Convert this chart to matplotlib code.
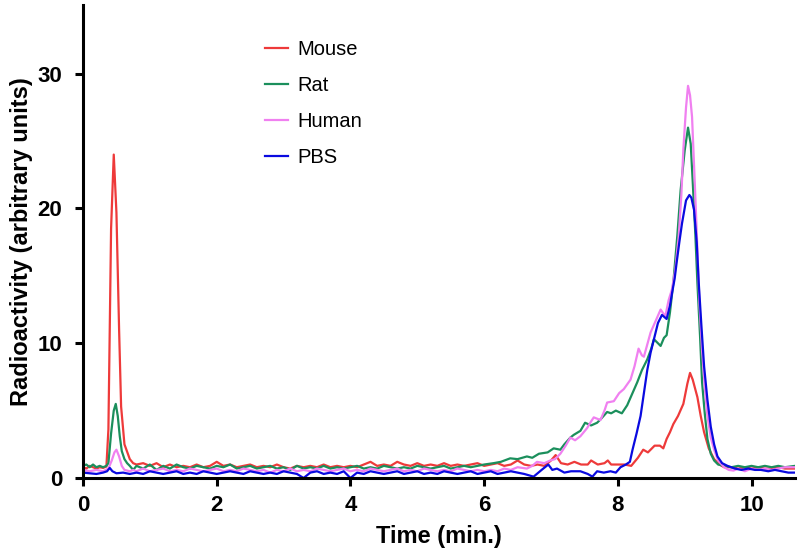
import numpy as np
import matplotlib
matplotlib.use("Agg")
import matplotlib.pyplot as plt

# sample times for the flat middle part of the run (0.8 - 6.0 min)
t_base = np.round(np.arange(0.8, 6.05, 0.1), 2)

# Mouse
mouse_head_t = [0.0, 0.05, 0.1, 0.15, 0.2, 0.25, 0.3, 0.35, 0.38, 0.40, 0.42, 0.46, 0.50, 0.54, 0.57, 0.62, 0.70, 0.75]
mouse_head_y = [0.8, 0.7, 0.9, 0.8, 0.7, 0.8, 0.75, 0.85, 3.6, 11.0, 18.5, 24.0, 19.7, 11.0, 5.3, 2.5, 1.4, 1.1]
mouse_base_y = [1.0, 1.1, 0.9, 1.1, 0.8, 1.0, 0.8, 0.9, 0.8, 1.0, 0.8, 0.9, 1.2, 0.9, 1.0, 0.8, 0.9, 1.0, 0.8, 0.9,
                0.8, 1.0, 0.8, 0.7, 0.9, 0.8, 0.9, 0.8, 1.0, 0.8, 0.9, 0.8, 0.9, 0.8, 1.0, 1.2, 0.9, 1.0, 0.9, 1.2,
                1.0, 0.9, 1.1, 0.9, 1.0, 0.9, 1.1, 0.9, 1.0, 0.9, 1.0, 1.1, 0.9]
mouse_tail_t = [6.1, 6.2, 6.3, 6.4, 6.5, 6.6, 6.7, 6.8, 6.9, 7.0, 7.07, 7.15, 7.25, 7.35, 7.45, 7.55, 7.6, 7.7, 7.8, 7.85,
                7.9, 8.0, 8.1, 8.2, 8.3, 8.38, 8.45, 8.55, 8.63, 8.68, 8.73, 8.78, 8.83, 8.9, 8.98, 9.04, 9.08, 9.12,
                9.19, 9.24, 9.29, 9.36, 9.44, 9.52, 9.59, 9.7, 9.8, 9.9, 10.0, 10.1, 10.2, 10.3, 10.4, 10.5, 10.65]
mouse_tail_y = [1.0, 1.1, 0.9, 1.0, 1.3, 1.0, 0.9, 1.0, 0.9, 1.3, 1.7, 1.1, 1.0, 1.2, 1.0, 1.0, 1.3, 1.0, 1.1, 1.3,
                1.0, 1.0, 1.0, 0.9, 1.5, 2.1, 1.9, 2.4, 2.4, 2.2, 2.9, 3.4, 4.0, 4.6, 5.5, 7.0, 7.8, 7.3,
                6.0, 4.6, 3.4, 2.2, 1.4, 1.0, 0.8, 0.8, 0.7, 0.8, 0.7, 0.8, 0.7, 0.7, 0.8, 0.7, 0.7]

# Rat
rat_head_t = [0.0, 0.05, 0.1, 0.15, 0.2, 0.25, 0.3, 0.35, 0.38, 0.42, 0.46, 0.49, 0.52, 0.55, 0.58, 0.62, 0.66, 0.70, 0.75]
rat_head_y = [0.9, 1.0, 0.8, 1.0, 0.8, 0.9, 0.8, 0.9, 1.1, 3.3, 5.0, 5.5, 4.6, 3.1, 2.0, 1.4, 1.1, 0.9, 0.6]
rat_base_y = [0.9, 0.7, 1.0, 0.6, 0.9, 0.7, 1.0, 0.8, 0.7, 0.9, 0.8, 0.7, 0.9, 0.8, 1.0, 0.7, 0.8, 0.9, 0.7, 0.8,
              0.9, 0.7, 0.8, 0.6, 0.9, 0.7, 0.8, 0.7, 0.9, 0.7, 0.8, 0.7, 0.8, 0.9, 0.7, 0.8, 0.7, 0.9, 0.8, 0.7,
              0.8, 0.7, 0.9, 0.8, 0.7, 0.8, 0.9, 0.7, 0.8, 0.9, 0.8, 0.9, 1.0]
rat_tail_t = [6.14, 6.25, 6.39, 6.5, 6.64, 6.72, 6.82, 6.95, 7.04, 7.14, 7.2, 7.29, 7.34, 7.44, 7.51, 7.6, 7.69, 7.75,
              7.84, 7.9, 7.97, 8.06, 8.14, 8.22, 8.29, 8.36, 8.44, 8.5, 8.54, 8.6, 8.64, 8.69, 8.73, 8.78, 8.83,
              8.89, 8.94, 9.0, 9.05, 9.09, 9.12, 9.16, 9.19, 9.23, 9.26, 9.3, 9.34, 9.39, 9.44, 9.5, 9.59, 9.7,
              9.8, 9.9, 10.0, 10.1, 10.2, 10.3, 10.4, 10.5, 10.65]
rat_tail_y = [1.1, 1.2, 1.46, 1.4, 1.6, 1.5, 1.8, 1.9, 2.2, 2.1, 2.5, 3.0, 3.2, 3.5, 4.1, 3.9, 4.1, 4.4,
              4.9, 4.8, 5.0, 4.8, 5.4, 6.3, 7.1, 8.0, 8.8, 9.6, 10.3, 10.0, 9.8, 10.4, 10.6, 12.3, 14.5,
              18.0, 21.4, 24.3, 26.0, 24.8, 22.0, 18.0, 14.5, 10.5, 7.1, 4.8, 2.9, 1.8, 1.3, 1.0, 0.9, 0.8,
              0.9, 0.8, 0.9, 0.8, 0.9, 0.8, 0.9, 0.8, 0.9]

# Human
human_head_t = [0.0, 0.1, 0.2, 0.3, 0.38, 0.43, 0.47, 0.5, 0.54, 0.58, 0.62, 0.7, 0.75]
human_head_y = [0.6, 0.5, 0.6, 0.5, 0.7, 1.3, 1.9, 2.1, 1.6, 0.9, 0.6, 0.5, 0.6]
human_base_y = [0.5, 0.7, 0.5, 0.6, 0.7, 0.5, 0.6, 0.5, 0.7, 0.6, 0.5, 0.6, 0.7, 0.5, 0.6, 0.5, 0.7, 0.6, 0.5, 0.6,
                0.4, 0.6, 0.5, 0.7, 0.5, 0.6, 0.5, 0.7, 0.6, 0.5, 0.6, 0.7, 0.5, 0.6, 0.5, 0.7, 0.6, 0.5, 0.6, 0.7,
                0.5, 0.6, 0.5, 0.7, 0.6, 0.5, 0.6, 0.5, 0.7, 0.6, 0.5, 0.6, 0.5]
human_tail_t = [6.1, 6.2, 6.3, 6.4, 6.5, 6.64, 6.72, 6.79, 6.9, 6.99, 7.06, 7.14, 7.22, 7.29, 7.36, 7.44, 7.54, 7.6,
                7.64, 7.74, 7.8, 7.84, 7.94, 8.02, 8.09, 8.19, 8.25, 8.31, 8.36, 8.39, 8.44, 8.49, 8.56, 8.64, 8.71,
                8.76, 8.81, 8.86, 8.91, 8.95, 8.98, 9.02, 9.05, 9.08, 9.11, 9.15, 9.19, 9.22, 9.26, 9.3, 9.34, 9.39,
                9.44, 9.5, 9.59, 9.66, 9.73, 9.8, 9.9, 10.0, 10.1, 10.2, 10.3, 10.4, 10.5, 10.65]
human_tail_y = [0.6, 0.5, 0.7, 0.6, 0.8, 0.7, 0.9, 1.2, 1.1, 1.3, 1.4, 1.8, 2.4, 3.0, 2.8, 3.1, 3.7, 4.2,
                4.5, 4.3, 5.0, 5.6, 5.7, 6.3, 6.6, 7.3, 8.3, 9.6, 9.1, 9.0, 9.9, 10.8, 11.6, 12.5, 12.0,
                13.2, 14.0, 15.5, 17.9, 21.0, 24.4, 27.5, 29.1, 28.4, 26.8, 22.0, 17.0, 13.0, 9.5, 6.8, 4.6, 3.0,
                2.1, 1.3, 0.8, 0.6, 0.55, 0.7, 0.5, 0.7, 0.6, 0.7, 0.6, 0.7, 0.8, 0.8]

# PBS
pbs_head_t = [0.0, 0.1, 0.2, 0.3, 0.36, 0.40, 0.44, 0.5, 0.6, 0.7]
pbs_head_y = [0.4, 0.35, 0.3, 0.4, 0.5, 0.75, 0.5, 0.35, 0.4, 0.3]
pbs_base_y = [0.4, 0.3, 0.5, 0.4, 0.3, 0.4, 0.5, 0.3, 0.4, 0.3, 0.5, 0.4, 0.3, 0.4, 0.5, 0.4, 0.3, 0.5, 0.4, 0.3,
              0.4, 0.3, 0.5, 0.4, 0.3, 0.0, 0.4, 0.5, 0.3, 0.4, 0.3, 0.5, 0.0, 0.4, 0.3, 0.5, 0.4, 0.3, 0.4, 0.5,
              0.3, 0.4, 0.5, 0.3, 0.4, 0.3, 0.5, 0.4, 0.3, 0.4, 0.5, 0.3, 0.4]
pbs_tail_t = [6.1, 6.2, 6.3, 6.4, 6.5, 6.6, 6.74, 6.86, 6.96, 7.02, 7.09, 7.2, 7.3, 7.44, 7.55, 7.62, 7.69, 7.79, 7.89,
              7.97, 8.04, 8.12, 8.18, 8.22, 8.28, 8.34, 8.39, 8.44, 8.49, 8.54, 8.6, 8.66, 8.73, 8.78, 8.81, 8.85,
              8.88, 8.92, 8.96, 9.02, 9.07, 9.1, 9.14, 9.18, 9.21, 9.25, 9.29, 9.34, 9.39, 9.44, 9.49, 9.56, 9.64,
              9.75, 9.85, 9.95, 10.05, 10.14, 10.25, 10.35, 10.45, 10.55, 10.65]
pbs_tail_y = [0.5, 0.3, 0.4, 0.5, 0.4, 0.3, 0.1, 0.6, 1.0, 0.6, 0.7, 0.4, 0.5, 0.5, 0.3, 0.1, 0.5, 0.4, 0.5,
              0.4, 0.8, 1.0, 1.2, 2.1, 3.3, 4.6, 6.3, 8.0, 9.3, 10.3, 11.5, 12.1, 11.8, 12.8, 13.7, 14.8,
              16.0, 17.5, 18.9, 20.6, 21.0, 20.8, 19.9, 17.5, 14.5, 11.3, 8.3, 5.8, 3.8, 2.5, 1.6, 1.1, 0.9,
              0.7, 0.6, 0.7, 0.6, 0.6, 0.5, 0.6, 0.5, 0.4, 0.4]

labels = ["Mouse", "Rat", "Human", "PBS"]
colors = ["#ee3a3a", "#1b8f5c", "#f080f0", "#0a0ae0"]

series = [
    (mouse_head_t, mouse_head_y, mouse_base_y, mouse_tail_t, mouse_tail_y),
    (rat_head_t, rat_head_y, rat_base_y, rat_tail_t, rat_tail_y),
    (human_head_t, human_head_y, human_base_y, human_tail_t, human_tail_y),
    (pbs_head_t, pbs_head_y, pbs_base_y, pbs_tail_t, pbs_tail_y),
]

fnt = ["Liberation Sans", "DejaVu Sans"]

fig = plt.figure(figsize=(8, 5.48), dpi=100)
ax = fig.add_axes([83 / 800, 1 - 478 / 548, 712 / 800, 473 / 548])

for (ht, hy, by, tt, ty), lab, col in zip(series, labels, colors):
    t = np.concatenate([ht, t_base, tt])
    y = np.concatenate([hy, by, ty])
    ax.plot(t, y, color=col, lw=1.6, label=lab)

ax.set_xlim(0, 10.65)
ax.set_ylim(0, 35.1)
ax.set_xticks([0, 2, 4, 6, 8, 10])
ax.set_yticks([0, 10, 20, 30])

for s in ["top", "right"]:
    ax.spines[s].set_visible(False)
for s in ["left", "bottom"]:
    ax.spines[s].set_linewidth(2.2)
ax.tick_params(direction="out", length=6, width=2.2, labelsize=16)
ax.tick_params(axis="x", pad=6)
ax.tick_params(axis="y", pad=9)
for lbl in ax.get_xticklabels() + ax.get_yticklabels():
    lbl.set_fontweight("bold")
    lbl.set_family(fnt)

ax.set_xlabel("Time (min.)", fontsize=17, fontweight="bold", family=fnt, labelpad=7)
ax.set_ylabel("Radioactivity (arbitrary units)", fontsize=17, fontweight="bold", family=fnt, labelpad=3)

leg = ax.legend(loc="upper left", bbox_to_anchor=(0.23, 0.965), frameon=False,
                prop={"family": fnt, "size": 14.5},
                handlelength=1.15, handletextpad=0.45, labelspacing=0.85)

fig.savefig("out.png", dpi=100)
